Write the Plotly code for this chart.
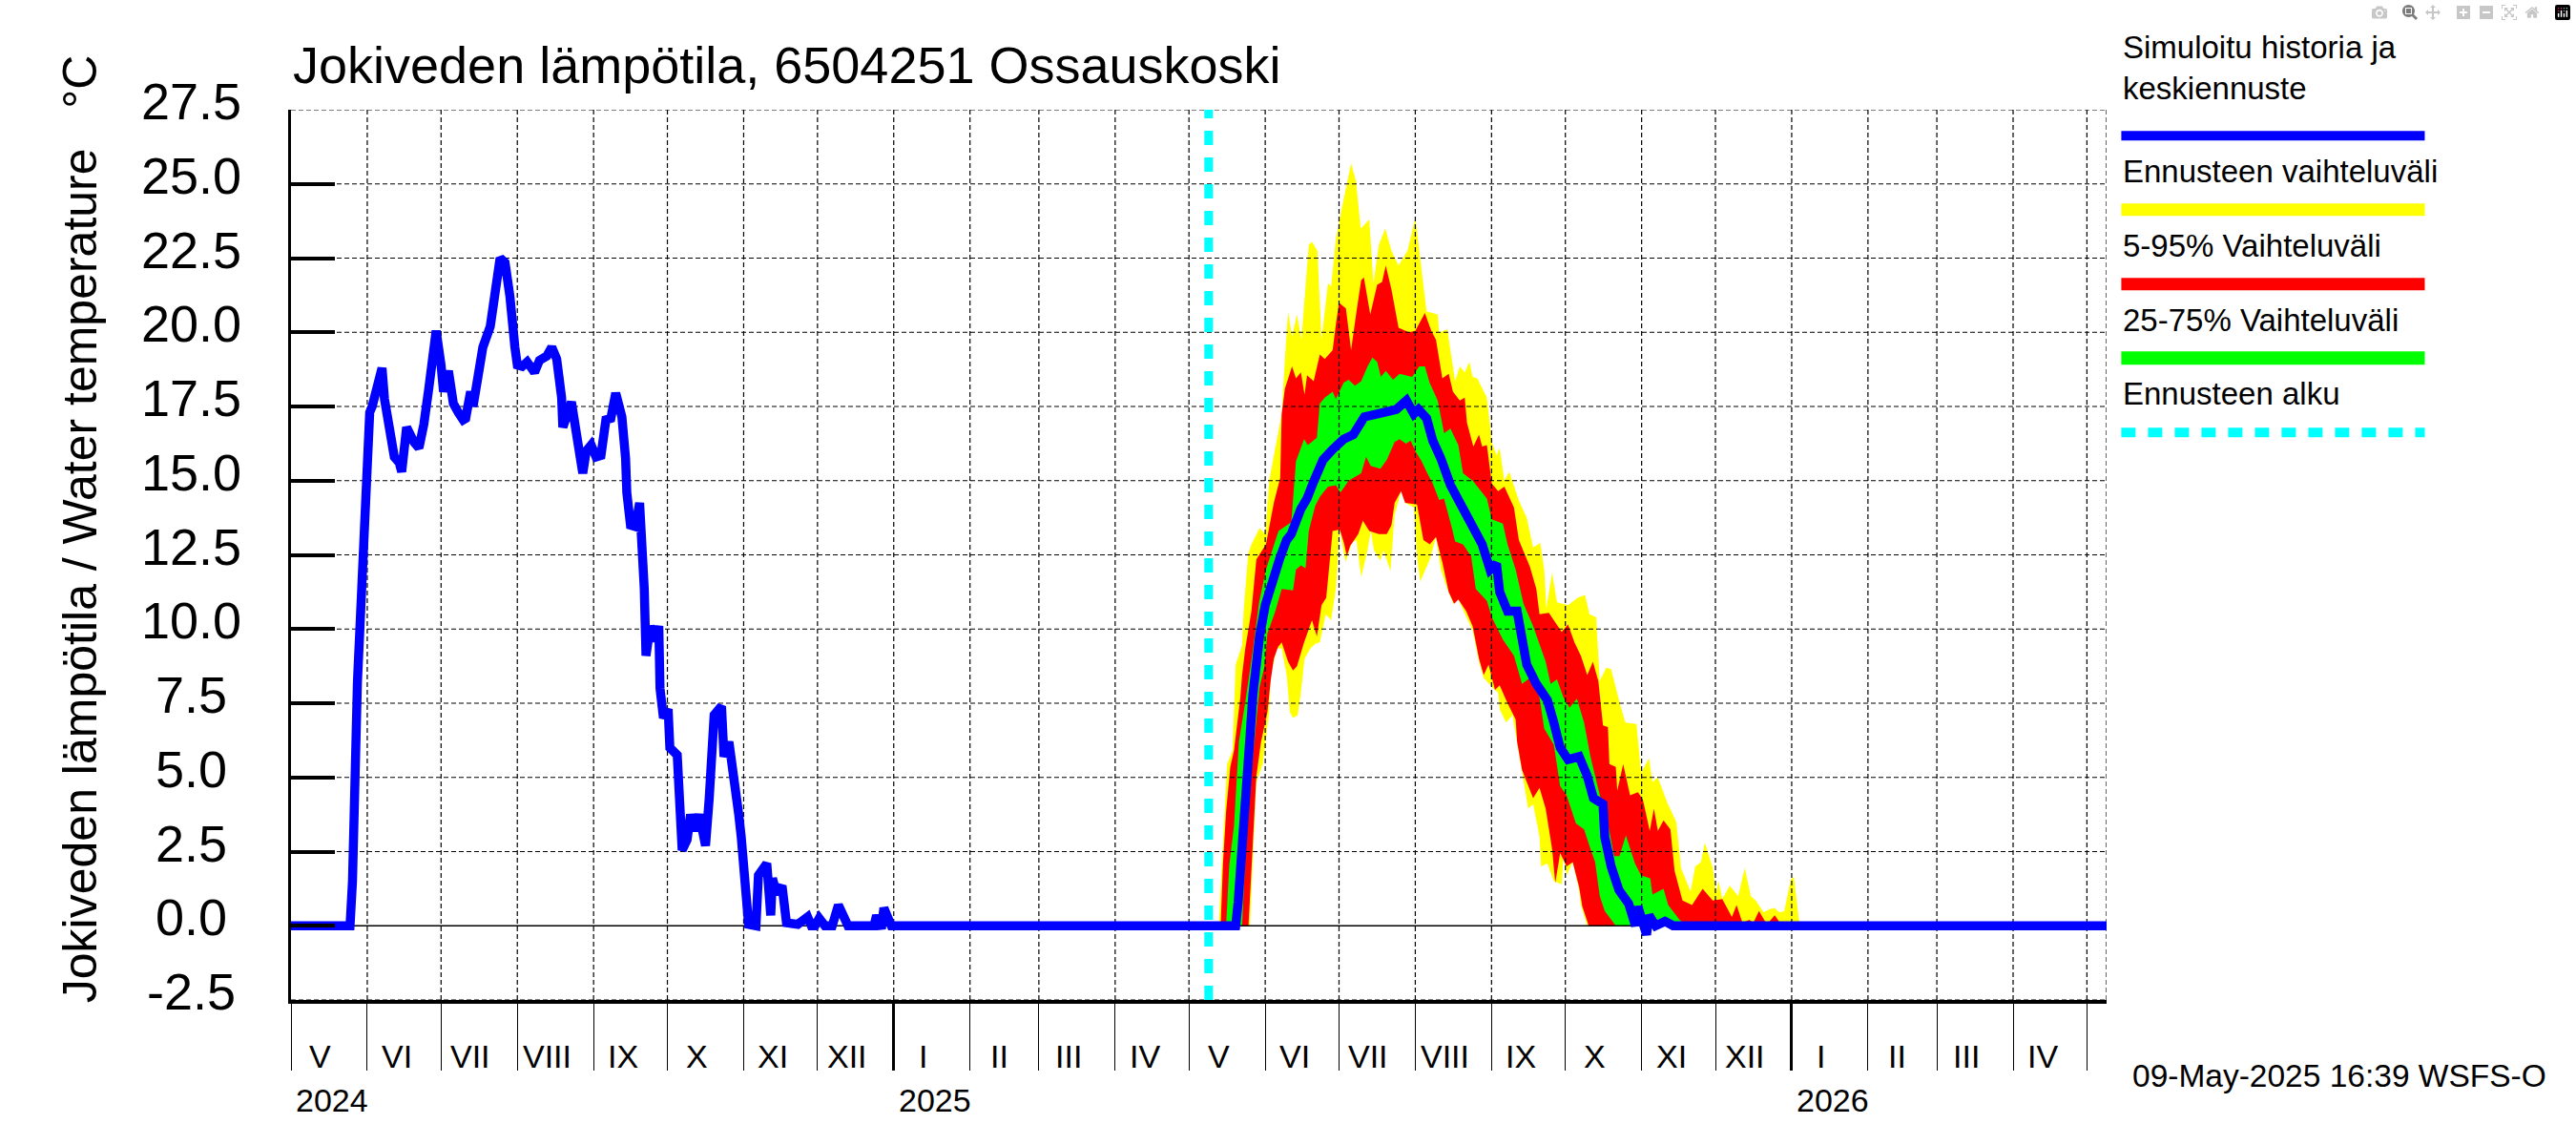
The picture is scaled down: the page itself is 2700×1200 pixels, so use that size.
#!/usr/bin/python

import pandas as pd
from plotly import graph_objects as go

FONT = "Liberation Sans"

START = pd.Timestamp("2024-05-01")
FORECAST_START = pd.Timestamp("2025-05-09")
END = pd.Timestamp("2026-05-09")

# Simulated history, days since 2024-05-01
hist_days = [0, 24, 25, 26, 27, 28, 29, 30, 31, 32, 33, 35, 37, 38, 39, 40, 41, 42, 44, 45, 47, 48, 50, 52,
             54, 56, 58, 59, 61, 62, 64, 66, 68, 70, 71, 73, 74, 76, 78, 81, 83, 85, 87, 89, 91, 92, 94, 96,
             99, 101, 104, 106, 108, 110, 110.5, 114, 116, 118.6, 120, 122, 124, 126, 128, 130, 132, 134.5,
             136, 136.5, 138, 140, 141.7, 143, 143.6, 144.3, 146, 148, 149.5, 150, 151.4, 153.3, 154, 157,
             158, 159, 161, 162.4, 164, 166, 167.3, 168.5, 170, 171, 172, 175, 176, 178, 180.5, 182, 183, 184,
             185, 186, 189, 190, 193.4, 194, 195, 195.7, 197.3, 199.6, 200.5, 201.4, 206, 210, 211.5, 213,
             214.7, 217, 220, 222.5, 226.4, 237, 238, 240, 241, 242, 243, 244, 373]
hist_temp = [0.0, 0.0, 1.5, 6.0, 8.2, 10.0, 12.0, 14.4, 16.4, 17.3, 17.5, 18.3, 18.8, 17.75, 17.3, 16.6, 16.1, 15.8,
             15.6, 15.3, 16.8, 16.6, 16.3, 16.1, 16.9, 18.1, 19.7, 20.05, 18.9, 18.0, 18.7, 17.6, 17.3, 17.05,
             17.1, 18.0, 17.5, 18.6, 19.5, 20.2, 21.45, 22.5, 22.35, 21.2, 19.5, 18.9, 18.85, 19.0, 18.65, 19.05,
             19.2, 19.5, 19.1, 17.8, 16.8, 17.65, 16.6, 15.25, 16.0, 16.2, 15.8, 15.85, 17.05, 17.1, 17.95, 17.15,
             15.75, 14.6, 13.5, 13.45, 14.25, 12.7, 11.35, 9.1, 10.1, 9.6, 10.1, 8.0, 7.0, 7.3, 6.0, 5.75,
             4.4, 2.55, 2.9, 3.75, 3.2, 3.75, 3.2, 2.7, 4.3, 5.45, 7.1, 7.4, 5.7, 6.2, 4.95, 3.75, 3.0, 1.7,
             0.45, 0.05, 0.0, 1.7, 2.1, 0.85, 0.35, 1.6, 1.1, 1.35, 0.75, 0.1, 0.05, 0.3, 0.0, 0.0,
             0.25, 0.0, 0.0, 0.7, 0.0, 0.0, 0.35, -0.1, 0.6, 0.4, 0.2, 0.0, 0.0]

# Mean forecast, days since 2025-05-09
fc_days = [0, 11, 12, 13, 14, 15, 16, 17, 18, 19, 20.7, 23, 26.5, 29, 31.7, 33.6, 37.5, 40, 42.6, 46.5, 50.4, 54.9,
           58.8, 63.3, 68.5, 71.7, 76.3, 80.4, 83.4, 85.3, 88.6, 91.1, 94.4, 98.3, 102.8, 107.3, 111.2, 114.4,
           117, 118.3, 121.5, 125.4, 127.4, 129.3, 133.2, 137.7, 140.3, 142.9, 146.1, 150.6, 153.9, 156.4,
           160.3, 161, 163.6, 166.8, 170.7, 173.5, 174.5, 178, 179, 181.7, 185.5, 188.8, 365]
fc_mean = [0.0, 0.0, 0.8, 2.2, 3.3, 4.5, 5.6, 6.6, 7.8, 8.6, 9.75, 10.8, 11.9, 12.4, 13.0, 13.2, 14.05, 14.4, 14.95,
           15.7, 16.05, 16.4, 16.55, 17.15, 17.25, 17.3, 17.4, 17.7, 17.25, 17.4, 17.1, 16.35, 15.75, 14.85,
           14.15, 13.6, 12.85, 12.0, 12.2, 11.25, 10.6, 10.6, 9.75, 8.8, 8.15, 7.6, 6.85, 6.0, 5.6, 5.7, 5.05,
           4.3, 4.1, 3.0, 2.0, 1.2, 0.75, 0.0, 0.65, -0.3, 0.35, 0.0, 0.15, 0.0, 0.0]

# Full forecast range
yellow_top_days = [4.1, 5.2, 6.45, 7.5, 9.7, 10.3, 11, 13.6, 14.2, 16.1, 17.4, 20.7, 23, 24.6, 27.1, 29.7, 31, 32.3,
                   33.9, 35.9, 37.7, 39.4, 40.7, 42, 44.2, 45.9, 48.5, 49.8, 51.7, 54.3, 56.2, 57.9, 59.9, 61.8,
                   65.3, 67, 69.2, 71.8, 74.3, 77.2, 80.8, 84, 86, 88.6, 93.1, 93.7, 97, 98.9, 100.2, 102.1,
                   104.1, 106, 107.3, 109.2, 113.1, 115.1, 117, 118.3, 120.2, 122.2, 126, 129.3, 131.9, 134.8,
                   136.4, 137.3, 139.6, 141.6, 146.1, 150, 153, 154.8, 157.5, 159, 161.6, 163.6, 167.4, 169.4,
                   173.9, 175.8, 179, 180.4, 182.6, 186.2, 190.1, 192, 195.9, 197.8, 200.1, 201.7, 204.9, 206.2,
                   207.3, 208.8, 211.8, 215.3, 217.9, 220.4, 222.4, 225.6, 227.6, 229.9, 232.1, 234, 236.6,
                   237.9, 239.8, 240.2]
yellow_top = [0.0, 1.7, 3.95, 5.45, 5.9, 7.6, 8.8, 9.45, 10.6, 12.55, 12.85, 13.4, 13.2, 15.0, 16.05, 17.25, 19.1, 20.7,
              19.85, 20.6, 19.75, 21.55, 22.95, 23.05, 22.75, 19.75, 21.65, 21.55, 23.15, 24.25, 25.0, 25.7, 25.1,
              23.5, 23.8, 21.65, 22.95, 23.5, 22.75, 22.25, 22.75, 23.85, 22.5, 20.7, 20.6, 20.0, 20.1, 19.0, 18.35,
              18.85, 18.65, 19.0, 18.5, 18.45, 17.8, 16.3, 15.85, 16.1, 15.0, 15.3, 14.35, 13.75, 12.75, 12.9,
              12.0, 10.7, 11.9, 10.9, 10.8, 11.05, 11.15, 10.5, 10.4, 8.25, 8.7, 8.65, 7.4, 6.85,
              6.8, 5.15, 5.65, 4.85, 5.0, 4.2, 3.5, 1.95, 1.15, 2.0, 2.15, 2.8, 1.95, 1.1,
              1.5, 0.9, 1.35, 1.0, 1.95, 1.0, 0.85, 0.45, 0.55, 0.6, 0.45, 0.5, 1.55,
              1.65, 0.1, 0.0]
yellow_low_days = [16.8, 18.1, 19.4, 22, 24.6, 25.2, 27.8, 29.7, 31.7, 33, 34.3, 36.2, 37.5, 39, 41.4, 43.3, 45.2, 47.6,
                   49.8, 51.7, 53.3, 55.6, 58.2, 60.1, 62, 64.6, 65.9, 67.2, 69.8, 71.1, 73.9, 75.6, 78.2, 79.9,
                   83.4, 84.7, 86, 89.9, 92.4, 94.4, 97, 99.5, 101.5, 104.1, 107.3, 109.9, 111.8, 115.7, 117.7,
                   118.3, 120.9, 123.5, 125.4, 127.4, 129.9, 131.9, 134.5, 135.1, 137.7, 140.3, 143.5, 144.2,
                   145.5, 148, 150.6, 151.3, 153.9]
yellow_low = [0.0, 2.45, 4.85, 5.45, 7.2, 8.45, 9.35, 9.35, 8.45, 7.2, 7.0, 7.1, 7.85, 9.0, 9.35, 9.5, 9.55, 10.5,
              10.3, 11.35, 13.35, 12.25, 12.9, 13.0, 11.75, 12.65, 13.3, 12.65, 12.3, 12.65, 11.95, 13.85, 14.65, 14.25,
              14.1, 12.45, 11.6, 12.35, 13.1, 12.0, 11.35, 10.85, 11.0, 10.5, 9.95, 8.9, 8.35, 8.0, 7.85,
              7.3, 6.85, 7.1, 6.2, 5.15, 3.95, 4.1, 3.0, 2.0, 2.1, 1.5, 1.4, 2.35,
              1.7, 2.15, 1.2, 0.7, 0.0]

# 5-95 %
red_top_days = [4.9, 5.8, 7.1, 8.8, 10.3, 12.9, 13.6, 14.9, 17.4, 19.4, 23.3, 26.5, 29.1, 29.7, 31, 33.9, 35.5, 37.5,
                39, 40, 42.7, 45.2, 47.2, 50.4, 51.7, 53, 55.8, 57.9, 60.1, 62, 63.1, 65.7, 68.5, 70.5, 72, 74.3,
                77.2, 81.4, 84, 87.9, 90.5, 92.4, 95, 97.6, 99.3, 102.1, 104.1, 105, 107.6, 109.9, 111.2, 113.1,
                115.1, 117.7, 120.2, 124.1, 126.1, 130.6, 133.2, 134.5, 138.3, 143.5, 146.1, 148.7, 151.3, 153.9,
                156.2, 158.4, 160.3, 162.3, 162.9, 165.5, 166.1, 168.5, 171.3, 174.5, 176.5, 179.3, 181, 182.6,
                184.9, 187.7, 189.4, 192.6, 196.5, 200.8, 204.9, 208.8, 212.7, 214.6, 217, 219.8, 221.4, 223.7,
                226.9, 230.1, 232.7, 236, 237.9]
red_top = [0.0, 2.05, 3.85, 5.35, 5.9, 7.7, 8.45, 9.35, 10.6, 12.35, 12.85, 14.25, 15.1, 17.25, 18.1, 18.85, 18.45, 18.65,
           17.9, 18.55, 18.35, 19.25, 19.1, 19.4, 20.25, 21.0, 20.8, 19.4, 20.7, 21.75, 21.85, 20.6, 21.6, 21.7, 22.25,
           21.45, 20.15, 20.0, 20.05, 20.65, 20.05, 19.75, 18.45, 18.6, 18.0, 17.7, 17.8, 16.95, 16.15, 16.55, 16.15,
           16.2, 14.9, 14.65, 14.8, 14.1, 13.0, 12.1, 11.35, 10.5, 10.55, 9.9, 10.15, 9.55, 9.1, 8.45, 8.9,
           8.25, 6.75, 6.7, 5.45, 5.35, 4.55, 5.45, 4.4, 4.5, 4.25, 3.2, 3.95, 3.2, 3.55, 3.25, 1.85,
           0.85, 0.7, 1.25, 0.85, 0.9, 0.3, 0.7, 0.1, 0.2, 0.1, 0.5, 0.05, 0.35, 0.05, 0.1, 0.0]
red_low_days = [16.2, 17.4, 19.4, 21.3, 23.9, 25.2, 26.5, 28.2, 29.7, 32.3, 34.3, 35.9, 38.8, 42, 44, 45.9, 47.8, 50.4,
                53.3, 55, 56.2, 57.5, 60.8, 62.7, 65.3, 69.2, 72.4, 74.3, 75.6, 78.2, 79.9, 84.7, 87.3, 89.9, 92.4,
                95, 97.6, 99.8, 101.5, 104.7, 107.3, 109.9, 111.8, 113.8, 116.4, 118.3, 121.5, 124.8, 125.4, 127.4,
                129.3, 131.9, 134.5, 137, 139.6, 140.9, 142.9, 145.5, 148, 150.6, 151.9, 154.5]
red_low = [0.0, 2.05, 5.05, 6.2, 7.2, 8.25, 9.0, 9.4, 9.55, 8.9, 8.6, 8.75, 9.55, 10.3, 9.75, 10.8, 11.05, 13.3,
           13.35, 12.9, 12.45, 12.8, 13.2, 13.65, 13.3, 13.2, 13.2, 13.5, 14.25, 14.65, 14.25, 14.2, 13.0, 12.85, 13.1,
           12.25, 11.25, 10.85, 11.0, 10.6, 10.1, 9.0, 8.45, 8.8, 7.95, 8.1, 7.5, 6.95, 6.2, 5.25,
           4.85, 4.3, 4.65, 3.95, 2.6, 1.45, 2.45, 2.0, 2.15, 1.3, 0.65, 0.0]

# 25-75 %
green_top_days = [7.1, 8.4, 10.3, 11.4, 12.3, 15, 18, 20.5, 23.3, 28.4, 33.6, 35.5, 38.8, 40.3, 44, 45.2, 47.2, 50.4, 51.7,
                  54.9, 56.9, 59.5, 62, 64.6, 66.6, 68.5, 70, 72, 75, 77.6, 82.7, 85.6, 87.9, 89.8, 93.1, 95.7,
                  98.3, 101.5, 103.4, 107.3, 113.1, 115.1, 119.6, 121.5, 124.8, 128, 131.9, 137, 139, 141.6, 144.2,
                  146.7, 149.7, 152.6, 155.2, 159, 162.3, 164.8, 167, 169.6, 173.3, 175.8, 179.5, 180.4, 184.9,
                  186.8, 191.4, 194, 200.4, 206.9, 208]
green_top = [0.0, 2.05, 3.35, 5.05, 6.2, 7.6, 9.3, 10.9, 12.0, 13.3, 13.6, 15.65, 16.4, 16.2, 16.45, 17.6, 17.8, 18.0, 17.75,
             18.3, 18.4, 18.2, 18.35, 18.85, 19.15, 19.0, 18.5, 18.7, 18.4, 18.6, 18.5, 18.85, 18.85, 18.3, 17.7, 16.6,
             16.75, 16.2, 15.25, 15.0, 14.4, 13.7, 13.55, 12.85, 12.0, 10.85, 10.1, 8.9, 8.15, 8.3, 7.7,
             7.35, 7.65, 6.85, 5.7, 4.4, 3.45, 2.35, 2.35, 3.05, 2.1, 1.7, 1.6, 1.05, 1.25,
             0.7, 0.2, 0.05, 0.1, 0.05, 0.0]
green_low_days = [13.6, 15.5, 18.1, 20.7, 22.6, 23.9, 27.1, 29.7, 34.3, 35.5, 37.5, 39.4, 40.7, 43.3, 45.2, 48.5, 51.7, 53.6,
                  56.9, 62, 64, 65.9, 69.8, 72.4, 75.6, 77.6, 80.2, 82.1, 84, 86.6, 88.6, 91.1, 93.7, 95.7, 98.9,
                  100.2, 103.4, 106.7, 108.6, 113.1, 115.1, 119.6, 124.1, 127.4, 130.6, 134.5, 136.4, 140.3, 142.9,
                  145.5, 149.3, 152.6, 155.2, 157.1, 159, 161, 165.5]
green_low = [0.0, 3.35, 5.8, 8.05, 8.7, 9.85, 10.6, 11.35, 11.3, 12.0, 12.15, 12.05, 13.3, 14.15, 14.45, 14.8, 14.85, 14.6,
             15.0, 15.25, 15.8, 15.5, 15.4, 15.7, 16.3, 16.4, 16.25, 16.35, 16.0, 15.65, 15.3, 14.9, 14.35, 14.4, 13.4,
             12.95, 12.85, 12.45, 11.35, 10.95, 10.4, 9.65, 9.1, 8.15, 8.35, 7.7, 6.65, 6.1, 4.7,
             4.4, 3.45, 3.25, 2.6, 2.15, 1.0, 0.5, 0.0]

y_ticks = [-2.5, 0.0, 2.5, 5.0, 7.5, 10.0, 12.5, 15.0, 17.5, 20.0, 22.5, 25.0, 27.5]
y_tick_labels = ["-2.5", "0.0", "2.5", "5.0", "7.5", "10.0", "12.5", "15.0", "17.5", "20.0", "22.5", "25.0", "27.5"]

month_labels = ["V", "VI", "VII", "VIII", "IX", "X", "XI", "XII", "I", "II", "III", "IV",
                "V", "VI", "VII", "VIII", "IX", "X", "XI", "XII", "I", "II", "III", "IV"]
year_labels = ["2024", "2025", "2026"]
year_starts = ["2024-05-01", "2025-01-01", "2026-01-01"]

legend_labels = ["Simuloitu historia ja<br>keskiennuste", "Ennusteen vaihteluväli", "5-95% Vaihteluväli",
                 "25-75% Vaihteluväli", "Ennusteen alku"]
legend_colors = ["#0000ff", "#ffff00", "#ff0000", "#00ff00", "#00ffff"]

# Plot box in page pixels
WIDTH, HEIGHT = 2700, 1200
LEFT, RIGHT, TOP, BOTTOM = 305.0, 2207.6, 114.8, 1047.7


def paper_x(px):
    return (px - LEFT) / (RIGHT - LEFT)


def paper_y(py):
    return (BOTTOM - py) / (BOTTOM - TOP)


def dates(base, days):
    return list(base + pd.to_timedelta(days, unit="D"))


def band(name, color, base, top_days, top, low_days, low):
    x = dates(base, top_days) + dates(base, low_days)[::-1]
    y = top + low[::-1]
    return go.Scatter(x=x, y=y, name=name, mode="lines", fill="toself", fillcolor=color,
                      line=dict(width=0), hoverinfo="skip", showlegend=False)


def text(label, x, y, size, xref="paper", yref="paper", xanchor="center", **kwargs):
    return dict(text=label, x=x, y=y, xref=xref, yref=yref, xanchor=xanchor, yanchor="middle",
                showarrow=False, font=dict(family=FONT, size=size, color="black"), **kwargs)


month_starts = list(pd.date_range("2024-05-01", "2026-05-01", freq="MS"))

fig = go.Figure()

fig.add_trace(band("Ennusteen vaihteluväli", "#ffff00", FORECAST_START, yellow_top_days, yellow_top, yellow_low_days, yellow_low))
fig.add_trace(band("5-95% Vaihteluväli", "#ff0000", FORECAST_START, red_top_days, red_top, red_low_days, red_low))
fig.add_trace(band("25-75% Vaihteluväli", "#00ff00", FORECAST_START, green_top_days, green_top, green_low_days, green_low))

# Grid goes over the bands but under the mean line, so it can't be the axis grid
grid_x = []
grid_y = []
for m in month_starts[1:] + [END]:
    grid_x += [m, m, None]
    grid_y += [y_ticks[0], y_ticks[-1], None]
for t in y_ticks:
    if t != 0.0:
        grid_x += [START, END, None]
        grid_y += [t, t, None]
fig.add_trace(go.Scatter(x=grid_x, y=grid_y, mode="lines", hoverinfo="skip", showlegend=False,
                         line=dict(color="black", width=1.2, dash="5px,3px")))
fig.add_trace(go.Scatter(x=[START, END], y=[0.0, 0.0], mode="lines", hoverinfo="skip", showlegend=False,
                         line=dict(color="black", width=1.6)))

fig.add_trace(go.Scatter(x=[FORECAST_START, FORECAST_START], y=[y_ticks[0], y_ticks[-1]], mode="lines",
                         name="Ennusteen alku", showlegend=False,
                         line=dict(color="#00ffff", width=9, dash="15px,13px")))

fig.add_trace(go.Scatter(x=dates(START, hist_days) + dates(FORECAST_START, fc_days),
                         y=hist_temp + fc_mean, mode="lines", name="Simuloitu historia ja keskiennuste",
                         showlegend=False, line=dict(color="#0000ff", width=9.5)))

annotations = []
annotations.append(text("Jokiveden lämpötila, 6504251 Ossauskoski", paper_x(305), paper_y(68), 54, xanchor="left"))
annotations.append(text("Jokiveden lämpötila / Water temperature   °C", paper_x(84), paper_y(554), 50, textangle=-90))
annotations.append(text("09-May-2025 16:39 WSFS-O", paper_x(2452), paper_y(1127), 33.5))

for t, label in zip(y_ticks, y_tick_labels):
    annotations.append(text(label, paper_x(201), t, 54, yref="y", yshift=9))

for m, label in zip(month_starts, month_labels):
    annotations.append(text(label, m + pd.Timedelta(days=12), paper_y(1107), 34, xref="x"))
for d, label in zip(year_starts, year_labels):
    annotations.append(text(label, d, paper_y(1153), 34, xref="x", xanchor="left", xshift=3))

legend_text_y = [71, 179, 257, 335, 412]
legend_bar_y = [142, 219.5, 297.5, 375, 453]
legend_bar_w = [10, 13, 13, 14, 10]
shapes = []
for label, color, ty, by, bw in zip(legend_labels, legend_colors, legend_text_y, legend_bar_y, legend_bar_w):
    annotations.append(text(label, paper_x(2223), paper_y(ty), 33, xanchor="left", align="left"))
    line = dict(color=color, width=bw)
    if color == "#00ffff":
        line["dash"] = "15px,13px"
    shapes.append(dict(type="line", xref="paper", yref="paper", x0=paper_x(2223), x1=paper_x(2541),
                       y0=paper_y(by), y1=paper_y(by), line=line))

fig.update_layout(
    width=WIDTH,
    height=HEIGHT,
    margin=dict(l=LEFT, r=WIDTH - RIGHT, t=TOP, b=HEIGHT - BOTTOM, autoexpand=False),
    paper_bgcolor="white",
    plot_bgcolor="white",
    showlegend=False,
    annotations=annotations,
    shapes=shapes,
    font=dict(family=FONT, color="black"),
)
fig.update_xaxes(
    type="date",
    range=[START, END],
    showgrid=False,
    zeroline=False,
    showline=True,
    linecolor="black",
    linewidth=4,
    ticks="outside",
    tickmode="array",
    tickvals=year_starts[1:],
    ticklen=70,
    tickwidth=3,
    tickcolor="black",
    showticklabels=False,
    minor=dict(ticks="outside", tickmode="array", tickvals=month_starts, ticklen=70, tickwidth=1, tickcolor="black"),
)
fig.update_yaxes(
    range=[y_ticks[0], y_ticks[-1]],
    showgrid=False,
    zeroline=False,
    showline=True,
    linecolor="black",
    linewidth=3,
    ticks="inside",
    tickmode="array",
    tickvals=y_ticks,
    ticklen=46,
    tickwidth=4,
    tickcolor="black",
    showticklabels=False,
)

fig.write_html("out.html", post_script="document.body.style.margin='0';")
